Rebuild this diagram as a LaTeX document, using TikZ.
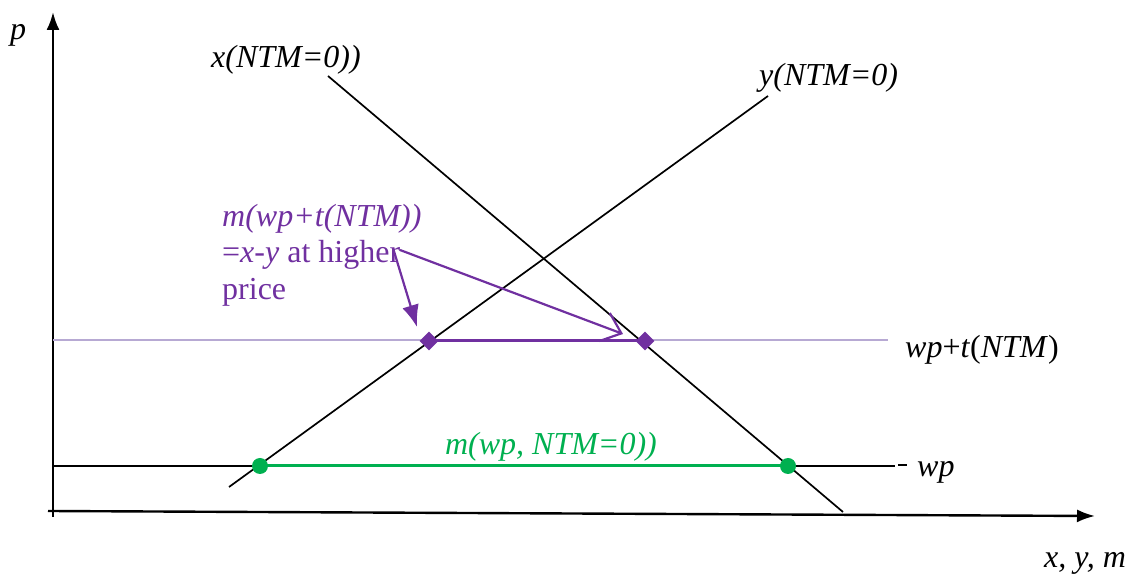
\documentclass[tikz,border=0pt]{standalone}
\usepackage{fontspec}
\setmainfont{Liberation Serif}
\usetikzlibrary{arrows.meta,positioning,calc,shapes.geometric}
\definecolor{ink}{HTML}{000000}
\definecolor{mPurple}{HTML}{7030A0}
\definecolor{mLilac}{HTML}{B7A9D3}
\definecolor{mGreen}{HTML}{00B050}
\tikzset{>={Latex[length=18pt,width=13pt]},
  axis/.style={line width=2.4pt,ink},
  curve/.style={line width=1.7pt,ink},
  lab/.style={font=\fontsize{32}{36}\selectfont\itshape,text=ink,inner sep=0pt},
  plab/.style={font=\fontsize{32}{36.5}\selectfont,text=mPurple,align=left,inner sep=0pt},
  pdot/.style={diamond,fill=mPurple,minimum size=19pt,inner sep=0pt},
  gdot/.style={circle,fill=mGreen,minimum size=16pt,inner sep=0pt}}
\begin{document}
\begin{tikzpicture}[x=1pt,y=1pt]
\useasboundingbox (0,0) rectangle (1133,578);
% axes
\coordinate (vb) at (53,61);\coordinate (vt) at (53,566);
\coordinate (hl) at (48,67);\coordinate (hr) at (1095,62);
\draw[axis,->] (vb) -- (vt);
\draw[axis,->] (hl) -- (hr);
\node[lab] (plab) at (18,543) {p};
\node[lab] (xym) at (1085,15) {x, y, m};
% demand and supply
\coordinate (xa) at (328,502);\coordinate (xb) at (843,66);
\coordinate (ya) at (229,91);\coordinate (yb) at (768,482);
\draw[curve] (xa) -- (xb);
\draw[curve] (ya) -- (yb);
\node[lab] (xlab) at (286,518) {x(NTM=0))};
\node[lab,anchor=west] (ylab) at (759,500) {y(NTM=0)};
% price lines
\coordinate (tl) at (53,238);\coordinate (tr) at (888,238);
\draw[mLilac,line width=1.3pt] (tl) -- (tr);
\node[lab,anchor=west,font=\fontsize{32}{36}\selectfont] (tlab) at (905,228) {\textit{wp}+\textit{t}(\textit{NTM})};
\coordinate (wl) at (53,112);\coordinate (wr) at (895,112);
\coordinate (dsa) at (898,113);\coordinate (dsb) at (907,113);
\draw[curve] (wl) -- (wr);
\draw[curve] (dsa) -- (dsb);
\node[lab,anchor=west] (wlab) at (917,106) {wp};
% imports
\node[pdot] (dL) at (429,237) {};
\node[pdot] (dR) at (645,237) {};
\draw[mPurple,line width=3pt] (dL.center) -- (dR.center);
\node[gdot] (gL) at (260,112) {};
\node[gdot] (gR) at (788,112) {};
\draw[mGreen,line width=3pt] (gL.center) -- (gR.center);
\node[lab,text=mGreen] (glab) at (551,131) {m(wp, NTM=0))};
\node[plab,anchor=north west] (mlab) at (222,374) {\textit{m(wp+t(NTM))}\\=\textit{x}-\textit{y} at higher\\price};
\coordinate (a1) at (393,330);\coordinate (a1e) at (417,251);
\coordinate (a2) at (400,328);\coordinate (a2e) at (623,244);
\draw[mPurple,line width=2.2pt,-{Latex[length=22pt,width=17pt]}] (a1) -- (a1e);
\draw[mPurple,line width=2.2pt,-{Straight Barb[length=18pt,width=30pt]}] (a2) -- (a2e);
\end{tikzpicture}
\end{document}
